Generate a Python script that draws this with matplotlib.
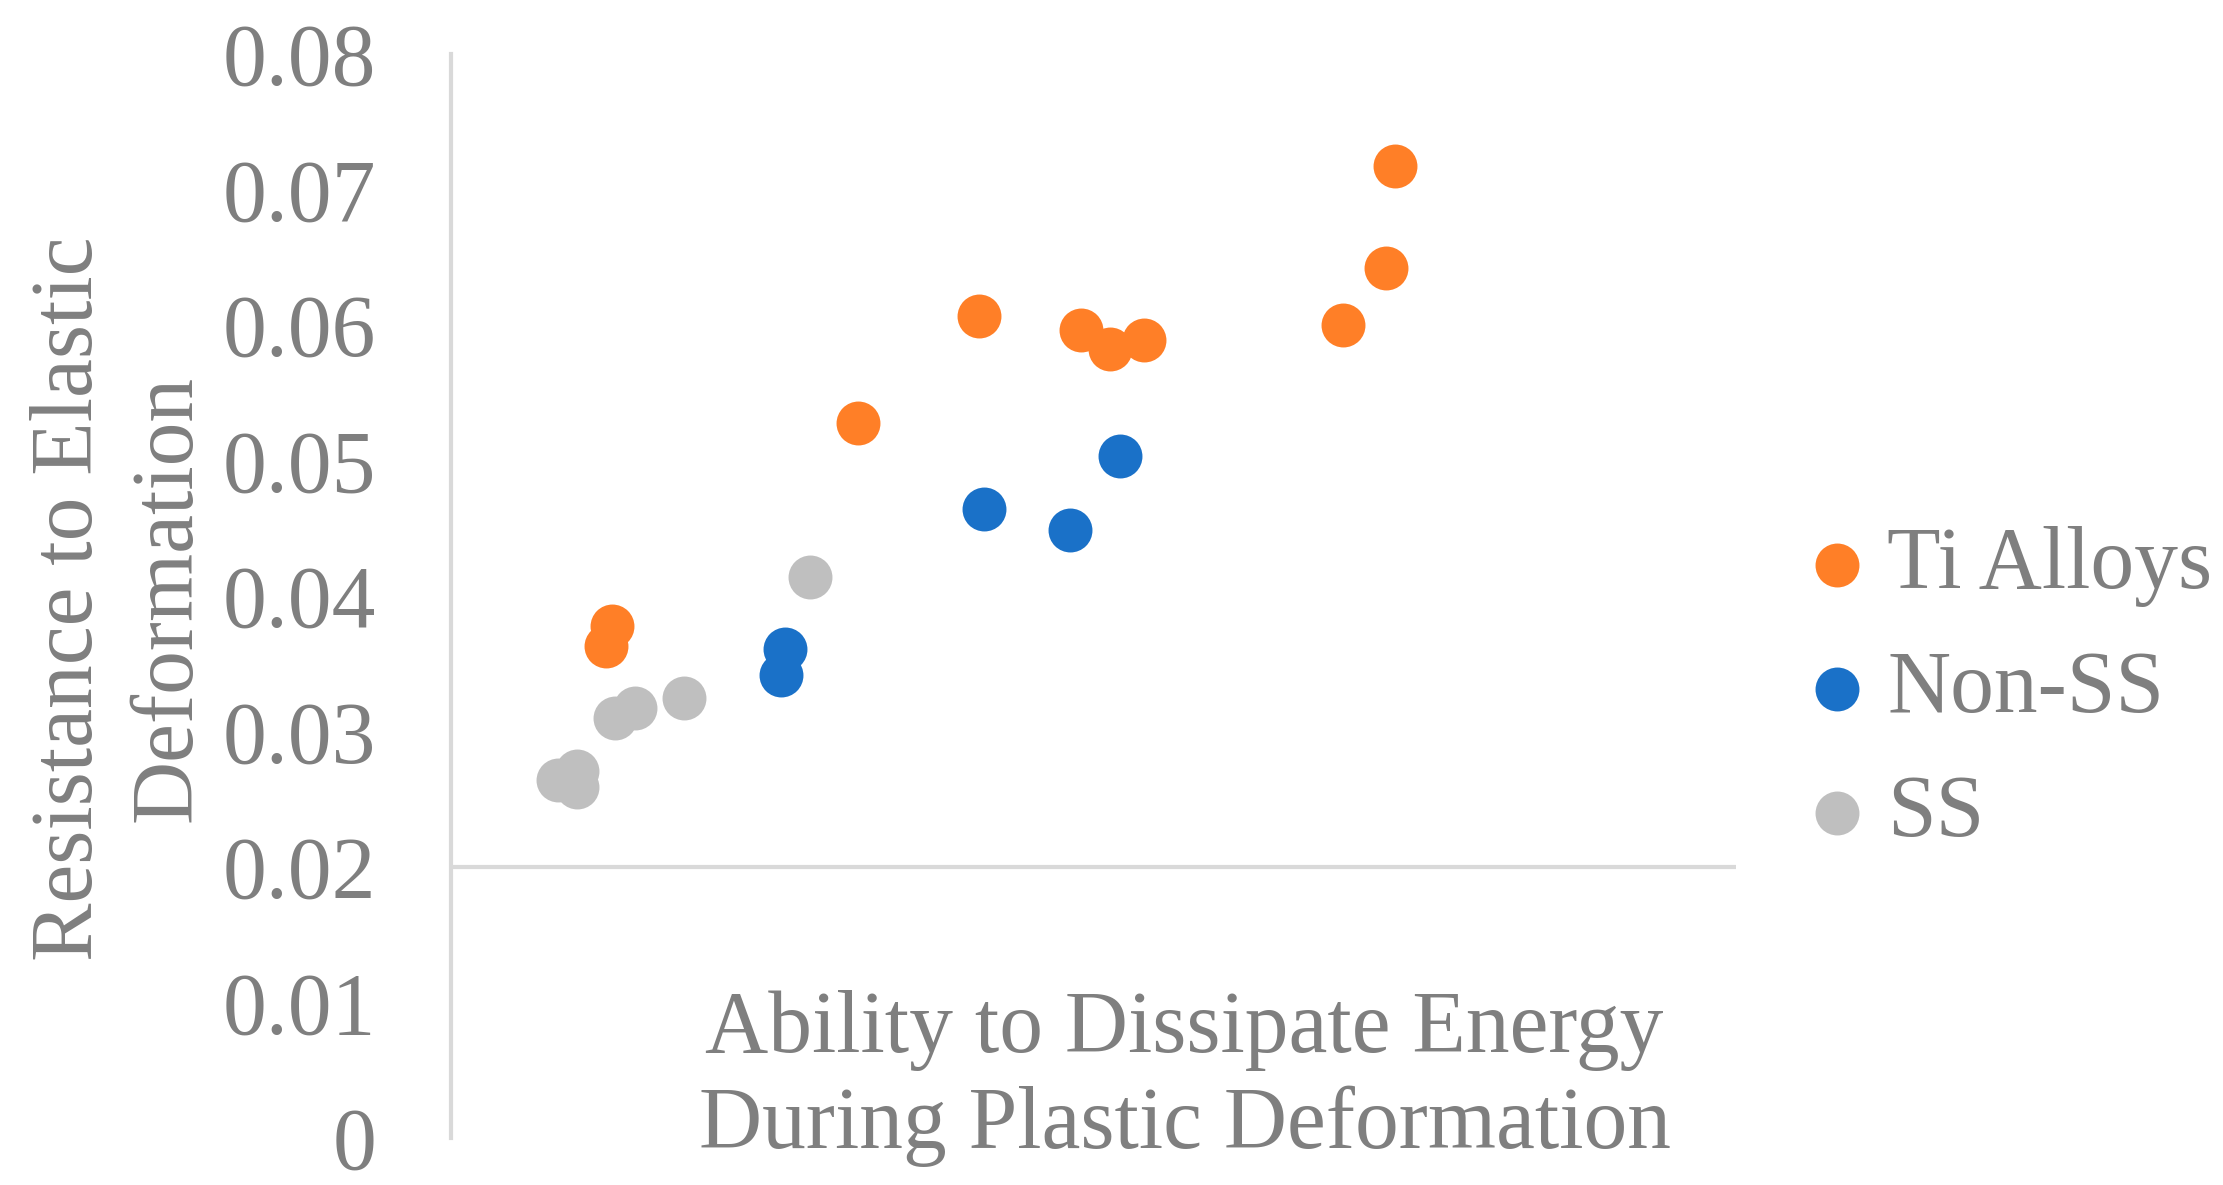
import matplotlib
matplotlib.use("Agg")
import matplotlib.pyplot as plt

# ---- data (x in arbitrary units, axis has no tick labels) ----
series_names = ["Ti Alloys", "Non-SS", "SS"]
ti_x = [0.735, 0.728, 0.694, 0.411, 0.490, 0.513, 0.539, 0.317, 0.125, 0.121]
ti_y = [0.0717, 0.0642, 0.0600, 0.0607, 0.0596, 0.0582, 0.0589, 0.0528, 0.0378, 0.0363]
nonss_x = [0.521, 0.415, 0.482, 0.260, 0.257]
nonss_y = [0.0503, 0.0464, 0.0449, 0.0361, 0.0342]
ss_x = [0.279, 0.143, 0.128, 0.181, 0.098, 0.083, 0.098]
ss_y = [0.0414, 0.0317, 0.0310, 0.0325, 0.0271, 0.0264, 0.0259]
y_ticks = [0, 0.01, 0.02, 0.03, 0.04, 0.05, 0.06, 0.07, 0.08]
y_ticklabels = ["0", "0.01", "0.02", "0.03", "0.04", "0.05", "0.06", "0.07", "0.08"]
x_title = ["Ability to Dissipate Energy", "During Plastic Deformation"]
y_title = ["Resistance to Elastic", "Deformation"]

colors = ["#FF7F27", "#1A71C8", "#BFBFBF"]
text_color = "#7F7F7F"
line_color = "#D9D9D9"
FS = 63

plt.rcParams["font.family"] = ["Liberation Serif", "DejaVu Serif"]

W, H = 2223, 1185
fig = plt.figure(figsize=(W / 100, H / 100), dpi=100)
ax = fig.add_axes([451 / W, 1 - 1138 / H, (1736 - 451) / W, (1138 - 54) / H])

for xs, ys, c, name in zip([ti_x, nonss_x, ss_x], [ti_y, nonss_y, ss_y], colors, series_names):
    ax.scatter(xs, ys, s=1000, color=c, linewidths=0, label=name, zorder=3)

ax.set_xlim(0, 1)
ax.set_ylim(0, 0.08)
ax.axhline(0.02, color=line_color, lw=3, zorder=1)

for sp in ["top", "right", "bottom"]:
    ax.spines[sp].set_visible(False)
ax.spines["left"].set_color(line_color)
ax.spines["left"].set_linewidth(3)

ax.set_xticks([])
ax.set_yticks(y_ticks)
ax.set_yticklabels(y_ticklabels)
ax.tick_params(axis="y", length=0, pad=54, labelsize=FS, labelcolor=text_color)

# axis titles
def fx(px):
    return px / W

def fy(py):
    return 1 - py / H

fig.text(fx(1184), fy(1052), x_title[0], ha="center", va="baseline",
         fontsize=FS, color=text_color)
fig.text(fx(1185), fy(1148), x_title[1], ha="center", va="baseline",
         fontsize=FS, color=text_color)
fig.text(fx(92), fy(598.5), y_title[0], ha="center", va="baseline", rotation=90,
         rotation_mode="anchor", fontsize=FS, color=text_color)
fig.text(fx(190), fy(598.5), y_title[1], ha="center", va="baseline", rotation=90,
         rotation_mode="anchor", fontsize=FS, color=text_color)

leg = ax.legend(loc="center left", bbox_to_anchor=(fx(1811), fy(690.5)),
                bbox_transform=fig.transFigure, frameon=False, fontsize=FS,
                handlelength=0.6, handletextpad=0.27, labelspacing=0.49,
                borderpad=0, borderaxespad=0, scatterpoints=1)
for t in leg.get_texts():
    t.set_color(text_color)

fig.savefig("out.png", dpi=100, facecolor="white")
